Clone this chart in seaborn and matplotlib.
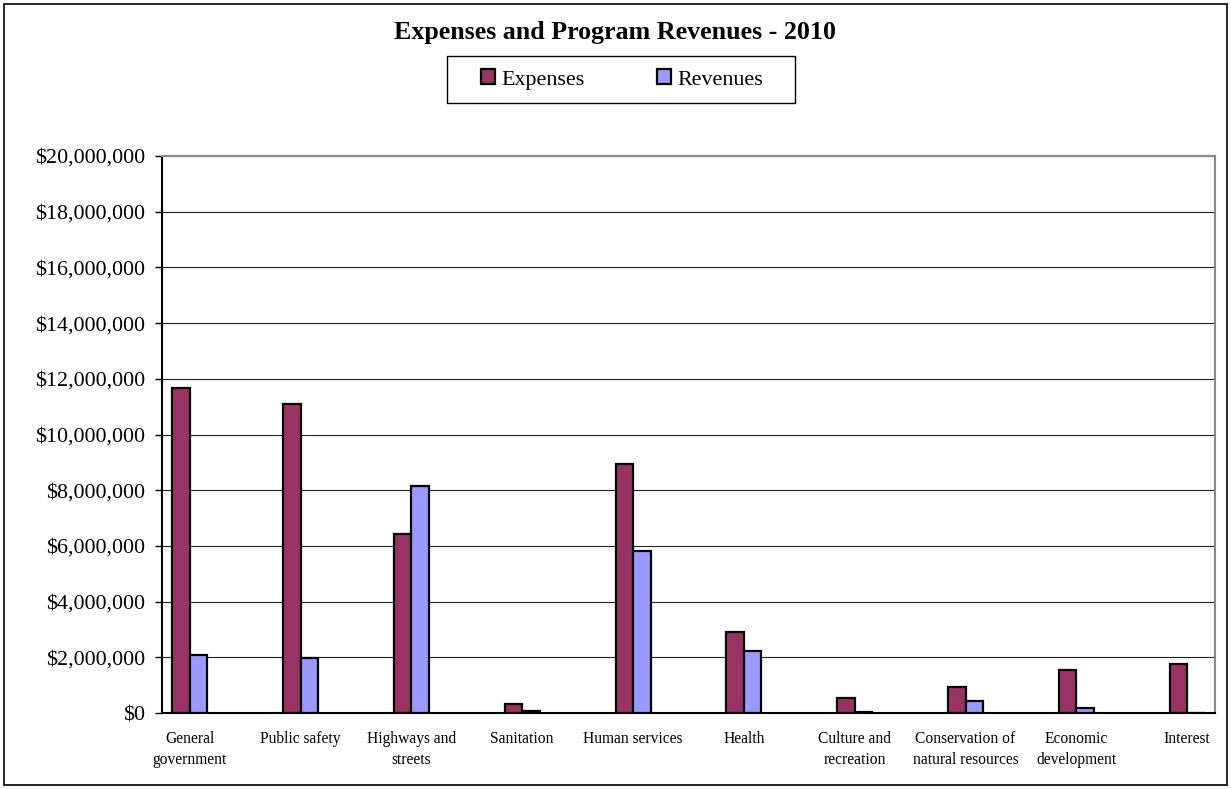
import numpy as np
import pandas as pd
import matplotlib
matplotlib.use("Agg")
import matplotlib.pyplot as plt
import seaborn as sns
from matplotlib.patches import Patch, Rectangle

categories = ["General\ngovernment", "Public safety", "Highways and\nstreets", "Sanitation",
              "Human services", "Health", "Culture and\nrecreation",
              "Conservation of\nnatural resources", "Economic\ndevelopment", "Interest"]
expenses = [11670000, 11080000, 6430000, 320000, 8940000, 2920000, 530000, 930000, 1530000, 1760000]
revenues = [2080000, 1970000, 8150000, 70000, 5820000, 2230000, 40000, 430000, 170000, 0]
series_names = ["Expenses", "Revenues"]
colors = ["#993366", "#9999FF"]
y_ticks = list(range(0, 20000001, 2000000))

sns.set_style("white")
plt.rcParams["font.family"] = ["Liberation Serif", "DejaVu Serif"]
plt.rcParams["text.color"] = "black"
plt.rcParams["xtick.color"] = "black"
plt.rcParams["ytick.color"] = "black"

df = pd.DataFrame({
    "Category": categories * 2,
    "Value": expenses + revenues,
    "Series": [series_names[0]] * len(categories) + [series_names[1]] * len(categories),
})

fig = plt.figure(figsize=(12.31, 7.89), dpi=100)
ax = fig.add_axes([162 / 1231, (789 - 713) / 789, (1215 - 162) / 1231, (713 - 156) / 789])

sns.barplot(data=df, x="Category", y="Value", hue="Series", order=categories,
            hue_order=series_names, palette=colors, width=0.315, dodge=True,
            edgecolor="black", linewidth=1.6, saturation=1, legend=False, ax=ax, zorder=3)

ax.set_xlim(-0.25, len(categories) - 0.75)
ax.set_ylim(0, 20000000)
ax.set_yticks(y_ticks)
ax.set_yticklabels(["${:,.0f}".format(v) for v in y_ticks], fontsize=15.8, color="black")
ax.yaxis.grid(True, color="#222222", linewidth=0.8, zorder=0)
ax.set_axisbelow(True)

ax.set_xticks(range(len(categories)))
ax.set_xticklabels(categories, fontsize=11.2, linespacing=1.4, va="top", color="black")
ax.set_xticks(np.arange(-0.25, len(categories) - 0.7, 0.5), minor=True)
ax.tick_params(axis="x", which="major", length=0, pad=13)
ax.tick_params(axis="x", which="minor", length=5, width=1, direction="out", color="black")
ax.tick_params(axis="y", which="major", length=5, width=1, direction="out", color="black", left=True, pad=7)
ax.set_xlabel("")
ax.set_ylabel("")

for side in ["left", "bottom"]:
    ax.spines[side].set_color("black")
    ax.spines[side].set_linewidth(1.5)
for side in ["top", "right"]:
    ax.spines[side].set_color("#888888")
    ax.spines[side].set_linewidth(1.5)

fig.text(0.5, 1 - 33 / 789, "Expenses and Program Revenues - 2010", ha="center", va="center",
         fontsize=18.7, fontweight="bold", color="black")

handles = [Patch(facecolor=c, edgecolor="black", linewidth=1.6) for c in colors]
leg = fig.legend(handles, series_names, loc="center", bbox_to_anchor=(622 / 1231, 1 - 79.5 / 789),
                 ncol=2, fontsize=15.8, frameon=False,
                 handlelength=0.65, handleheight=0.65, handletextpad=0.28, columnspacing=3.3,
                 borderpad=0.3, borderaxespad=0)

fig.patches.append(Rectangle((447 / 1231, 1 - 103 / 789), 348 / 1231, 47 / 789, transform=fig.transFigure,
                             fill=False, edgecolor="black", linewidth=1.0))

fig.patches.append(Rectangle((4 / 1231, 4 / 789), 1223 / 1231, 781 / 789, transform=fig.transFigure,
                             fill=False, edgecolor="black", linewidth=1.2))

fig.savefig("out.png", dpi=100, facecolor="white")
